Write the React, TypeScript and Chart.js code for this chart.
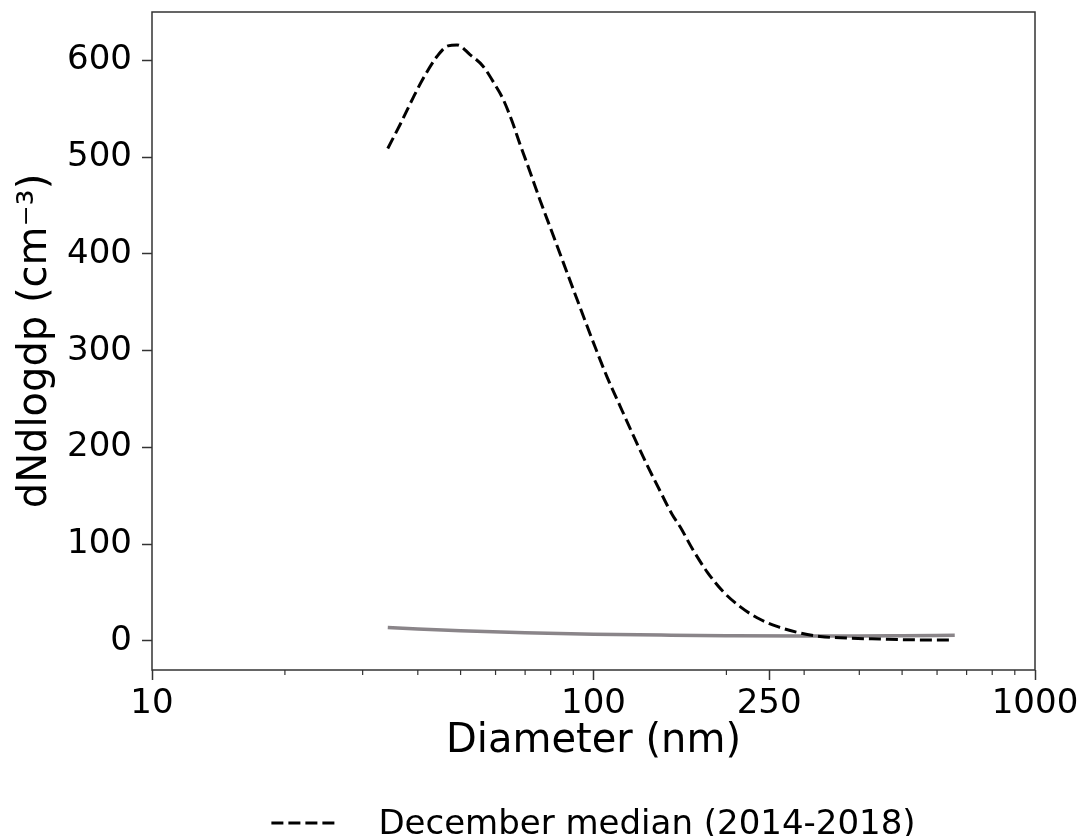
import React, { useEffect, useRef } from 'react';
import { Chart, registerables } from 'chart.js';

Chart.register(...registerables);

const FONT = '"DejaVu Sans", sans-serif';

// December median size distribution (dashed)
const medianDiameters = [34.2, 36.5, 39.0, 41.1, 44.2, 46.8, 49.1, 52.5, 56.2, 59.8, 62.4, 65.4, 68.2, 71.8, 75.6, 79.7, 84.8, 89.9, 95.7, 100.8, 107.3, 114.8, 122.9, 132.2, 141.5, 150.6, 157.1, 168.1, 180.8, 196.6, 214.8, 234.7, 260.4, 289.0, 325.8, 375.2, 445.6, 529.2, 652.3];
const medianValues = [509, 534, 561, 581, 604, 615, 616, 606, 594, 575, 560, 537, 513, 485, 456, 428, 395, 364, 331, 304, 273, 243, 213, 182, 155, 131, 118, 94, 71.5, 51, 35.5, 24, 15, 9, 4.6, 3, 2, 1.2, 1];

// Grey reference line near zero
const greyDiameters = [34.2, 40, 50, 70, 100, 150, 200, 300, 400, 500, 658];
const greyValues = [13.9, 12.3, 10.6, 8.6, 7, 6, 5.5, 5.1, 5.1, 5.4, 5.8];

const xMajorTicks = [10, 100, 250, 1000];
const xMinorTicks = [20, 30, 40, 50, 60, 70, 80, 90, 200, 300, 400, 500, 600, 700, 800, 900];
const yTicks = [0, 100, 200, 300, 400, 500, 600];

const legendLabel = 'December median (2014-2018)';

const framePlugin = {
  id: 'frameAndLegend',
  afterDraw(chart: any) {
    const { ctx, chartArea } = chart;
    const xs = chart.scales.x;
    ctx.save();
    // frame
    ctx.strokeStyle = '#333';
    ctx.lineWidth = 1.5;
    ctx.setLineDash([]);
    ctx.strokeRect(chartArea.left, chartArea.top, chartArea.right - chartArea.left, chartArea.bottom - chartArea.top);
    // minor ticks
    ctx.lineWidth = 1.2;
    ctx.beginPath();
    for (const v of xMinorTicks) {
      const px = xs.getPixelForValue(v);
      ctx.moveTo(px, chartArea.bottom);
      ctx.lineTo(px, chartArea.bottom + 5);
    }
    ctx.stroke();
    // legend
    const ds = chart.data.datasets[0];
    ctx.font = `34px ${FONT}`;
    const textW = ctx.measureText(ds.label).width;
    const sampleW = 67;
    const gap = 40;
    const total = sampleW + gap + textW;
    const cx = (chartArea.left + chartArea.right) / 2;
    const x0 = cx - total / 2;
    const baseline = chart.height - 2;
    ctx.strokeStyle = ds.borderColor;
    ctx.lineWidth = ds.borderWidth;
    ctx.setLineDash(ds.borderDash);
    ctx.beginPath();
    ctx.moveTo(x0, baseline - 11);
    ctx.lineTo(x0 + sampleW, baseline - 11);
    ctx.stroke();
    ctx.setLineDash([]);
    ctx.fillStyle = '#000';
    ctx.textBaseline = 'alphabetic';
    ctx.textAlign = 'left';
    ctx.fillText(ds.label, x0 + sampleW + gap, baseline);
    ctx.restore();
  },
};

export default function App() {
  const canvasRef = useRef<HTMLCanvasElement | null>(null);

  useEffect(() => {
    document.body.style.margin = '0';
    const canvas = canvasRef.current;
    if (!canvas) return;
    const chart = new Chart(canvas, {
      type: 'line',
      data: {
        datasets: [
          {
            label: legendLabel,
            data: medianDiameters.map((d, i) => ({ x: d, y: medianValues[i] })),
            borderColor: '#000',
            borderWidth: 3,
            borderDash: [12, 5],
            pointRadius: 0,
            fill: false,
            cubicInterpolationMode: 'monotone',
          },
          {
            label: 'reference',
            data: greyDiameters.map((d, i) => ({ x: d, y: greyValues[i] })),
            borderColor: 'rgb(138,133,137)',
            borderWidth: 3.5,
            pointRadius: 0,
            fill: false,
            cubicInterpolationMode: 'monotone',
          },
        ],
      },
      options: {
        animation: false,
        responsive: false,
        layout: { padding: { left: 0, right: 46, top: 12, bottom: 0 } },
        plugins: { legend: { display: false }, tooltip: { enabled: false } },
        scales: {
          x: {
            type: 'logarithmic',
            min: 10,
            max: 1000,
            afterBuildTicks: (s: any) => {
              s.ticks = xMajorTicks.map((v) => ({ value: v, major: true }));
            },
            afterFit: (s: any) => {
              s.height = 166;
              s.paddingLeft = 0;
              s.paddingRight = 0;
            },
            ticks: {
              autoSkip: false,
              maxRotation: 0,
              font: { family: FONT, size: 34 },
              color: '#000',
              padding: 4,
              callback: (v: any) => String(v),
            },
            grid: { display: true, drawOnChartArea: false, tickLength: 10, tickColor: '#333', tickWidth: 1.5 },
            border: { display: false },
            title: {
              display: true,
              text: 'Diameter (nm)',
              font: { family: FONT, size: 40 },
              color: '#000',
              padding: { top: 0, bottom: 70 },
            },
          },
          y: {
            type: 'linear',
            min: -30,
            max: 650,
            afterBuildTicks: (s: any) => {
              s.ticks = yTicks.map((v) => ({ value: v }));
            },
            afterFit: (s: any) => {
              s.width = 152;
              s.paddingTop = 0;
              s.paddingBottom = 0;
            },
            ticks: {
              font: { family: FONT, size: 34 },
              color: '#000',
              padding: 10,
            },
            grid: { display: true, drawOnChartArea: false, tickLength: 10, tickColor: '#333', tickWidth: 1.5 },
            border: { display: false },
            title: {
              display: true,
              text: 'dNdlogdp (cm⁻³)',
              font: { family: FONT, size: 40 },
              color: '#000',
              padding: { top: 12, bottom: 0 },
            },
          },
        },
      } as any,
      plugins: [framePlugin],
    });
    return () => chart.destroy();
  }, []);

  return (
    <div style={{ width: 1081, height: 836 }}>
      <canvas ref={canvasRef} width={1081} height={836} style={{ display: 'block' }} />
    </div>
  );
}
